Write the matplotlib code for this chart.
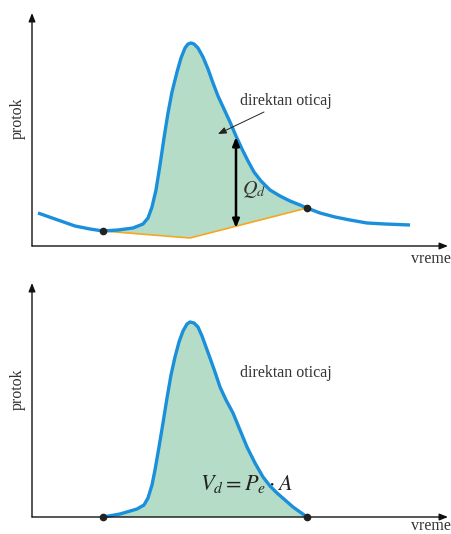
import matplotlib.pyplot as plt
import numpy as np

plt.rcParams['font.family'] = 'Liberation Serif'
plt.rcParams['mathtext.fontset'] = 'stix'

# hydrograph (top), picture pixel coordinates
top_x = [38, 55, 75, 90, 103, 118, 133, 143, 148, 152, 156, 160, 164, 168, 172, 177, 181, 185, 188, 191,
         194, 198, 203, 208, 213, 218, 224, 230, 236, 242, 248, 254, 261, 270, 280, 290, 300, 307,
         320, 335, 350, 367, 385, 410]
top_y = [213, 219, 226, 229, 231, 230, 228, 224, 218, 207, 190, 165, 138, 113, 92, 72, 58, 48, 44, 43,
         44, 48, 57, 69, 83, 96, 109, 122, 136, 149, 161, 172, 181, 190, 196, 201, 205, 208,
         213, 217, 220, 223, 224, 225]
base_x = [103, 190, 307]
base_y = [231, 238, 208]

# direct runoff hydrograph (bottom)
bot_x = [103, 120, 137, 144, 148, 152, 155, 159, 163, 167, 171, 175, 179, 183, 187, 190, 194, 198,
         202, 206, 210, 215, 220, 226, 233, 240, 247, 255, 263, 270, 277, 285, 293, 300, 307]
bot_y = [517, 514, 509, 505, 498, 485, 470, 447, 423, 398, 375, 357, 342, 331, 324, 322, 323, 327,
         336, 347, 358, 372, 387, 400, 413, 430, 447, 463, 477, 486, 493, 500, 507, 512, 517]

blue = '#1a8fdc'
green = '#b5dcc6'
orange = '#f5a623'
txt = '#333333'

fig = plt.figure(figsize=(4.52, 5.34), dpi=100)
ax = fig.add_axes([0, 0, 1, 1])
ax.set_xlim(0, 452)
ax.set_ylim(534, 0)
ax.axis('off')

tx = np.array(top_x)
ty = np.array(top_y)
m = (tx >= base_x[0]) & (tx <= base_x[-1])
ax.fill(np.concatenate([tx[m], base_x[::-1]]), np.concatenate([ty[m], base_y[::-1]]),
        color=green, lw=0, zorder=1)
ax.plot(base_x, base_y, color=orange, lw=1.2, zorder=2)
ax.plot(top_x, top_y, color=blue, lw=2.4, solid_capstyle='butt', zorder=3)
ax.plot([base_x[0], base_x[-1]], [base_y[0], base_y[-1]], 'o', color='#222222', ms=4.5, zorder=4)

bx = np.array(bot_x)
by = np.array(bot_y)
ax.fill(np.concatenate([bx, [307, 103]]), np.concatenate([by, [517, 517]]),
        color=green, lw=0, zorder=1)

ax.text(200, 484, r'$V_d = P_e \cdot A$', fontsize=16, color='#222222', va='center', ha='left', zorder=2)
ax.plot(bot_x, bot_y, color=blue, lw=2.4, solid_capstyle='butt', zorder=3)
ax.plot([103, 307], [517, 517], 'o', color='#222222', ms=4.5, zorder=4)

# axes with arrows
for y0, ytop in [(246, 13), (517, 283)]:
    ax.annotate('', xy=(32, ytop), xytext=(32, y0),
                arrowprops=dict(arrowstyle='-|>,head_length=0.5,head_width=0.2', color='#111111', lw=1,
                                shrinkA=0, shrinkB=0))
    ax.annotate('', xy=(448, y0), xytext=(32, y0),
                arrowprops=dict(arrowstyle='-|>,head_length=0.5,head_width=0.2', color='#111111', lw=1,
                                shrinkA=0, shrinkB=0))
    ax.text(18, y0 - 128, 'protok', rotation=90, fontsize=11.5, color=txt, ha='center', va='center')

ax.text(451, 259, 'vreme', fontsize=11.5, color=txt, ha='right', va='center')
ax.text(451, 526, 'vreme', fontsize=11.5, color=txt, ha='right', va='center')

# top annotations
ax.annotate('', xy=(236, 137), xytext=(236, 228),
            arrowprops=dict(arrowstyle='<|-|>,head_length=0.5,head_width=0.2', color='black', lw=1.8,
                            shrinkA=0, shrinkB=0))
ax.text(242, 190, r'$Q_d$', fontsize=14.5, color=txt, ha='left', va='center')
ax.text(240, 101, 'direktan oticaj', fontsize=11.5, color=txt, ha='left', va='center')
ax.annotate('', xy=(218, 134), xytext=(264, 112),
            arrowprops=dict(arrowstyle='-|>,head_length=0.5,head_width=0.2', color='#222222', lw=0.7,
                            shrinkA=0, shrinkB=0))

ax.text(240, 373, 'direktan oticaj', fontsize=11.5, color=txt, ha='left', va='center')

fig.savefig('out.png', dpi=100)
